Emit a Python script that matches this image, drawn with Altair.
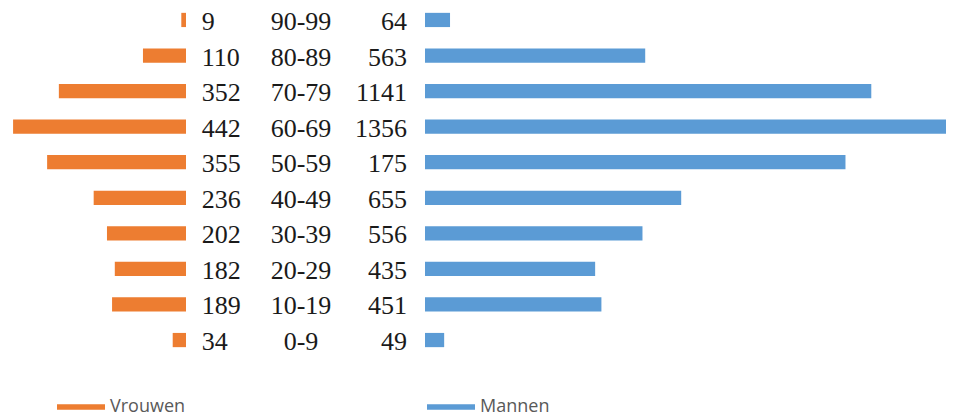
import altair as alt
import pandas as pd

ages = ["90-99", "80-89", "70-79", "60-69", "50-59", "40-49", "30-39", "20-29", "10-19", "0-9"]
vrouwen_labels = ["9", "110", "352", "442", "355", "236", "202", "182", "189", "34"]
vrouwen_bars = [12, 110, 325, 442, 355, 236, 202, 182, 189, 34]
mannen_labels = ["64", "563", "1141", "1356", "175", "655", "556", "435", "451", "49"]
mannen_bars = [64, 563, 1141, 1356, 1075, 655, 556, 435, 451, 49]
series = ["Vrouwen", "Mannen"]
colors = ["#ED7D31", "#5B9BD5"]

rows = []
for i, a in enumerate(ages):
    rows.append({"age": a, "geslacht": "Vrouwen", "bar": vrouwen_bars[i], "label": vrouwen_labels[i]})
    rows.append({"age": a, "geslacht": "Mannen", "bar": mannen_bars[i], "label": mannen_labels[i]})
df = pd.DataFrame(rows)

H = 340
yscale = alt.Scale(type="band", paddingInner=0.6, paddingOuter=0.08)
Y = alt.Y("age:N", sort=ages, scale=yscale, axis=None)
cscale = alt.Scale(domain=series, range=colors)

color_legend = alt.Color(
    "geslacht:N",
    scale=cscale,
    legend=alt.Legend(
        title=None,
        orient="none",
        direction="horizontal",
        legendX=46,
        legendY=370,
        symbolType="stroke",
        symbolSize=2304,
        symbolStrokeWidth=5.5,
        labelOffset=2,
        columnPadding=230,
        labelFont="Open Sans",
        labelFontSize=18,
        labelColor="#595959",
    ),
)

left = alt.Chart(df).transform_filter(alt.datum.geslacht == "Vrouwen").mark_bar(color=colors[0]).encode(
    x=alt.X("bar:Q", scale=alt.Scale(domain=[0, 455], reverse=True, nice=False), axis=None),
    y=Y,
).properties(width=178, height=H)

txt_font = dict(font="Liberation Serif", fontSize=26, color="#1a1a1a", baseline="alphabetic", dy=10)
mid_w = alt.Chart(df).transform_filter(alt.datum.geslacht == "Vrouwen").mark_text(align="left", **txt_font).encode(
    x=alt.value(15.7), y=Y, text="label:N")
mid_a = alt.Chart(df).transform_filter(alt.datum.geslacht == "Vrouwen").mark_text(align="center", **txt_font).encode(
    x=alt.value(115), y=Y, text="age:N")
mid_m = alt.Chart(df).transform_filter(alt.datum.geslacht == "Mannen").mark_text(align="right", **txt_font).encode(
    x=alt.value(221), y=Y, text="label:N")
# one point per series -> no visible line, but gives the legend its line symbols
legend_src = alt.Chart(df).transform_filter(alt.datum.age == "0-9").mark_line().encode(
    x=alt.X("bar:Q", axis=None), y=Y, color=color_legend)
mid = alt.layer(mid_w, mid_a, mid_m, legend_src).properties(width=239, height=H)

right = alt.Chart(df).transform_filter(alt.datum.geslacht == "Mannen").mark_bar(clip=True, color=colors[1]).encode(
    x=alt.X("bar:Q", scale=alt.Scale(domain=[0, 1332], nice=False), axis=None),
    y=Y,
).properties(width=521, height=H)

chart = alt.hconcat(left, mid, right, spacing=0).properties(
    padding={"left": 0, "top": 0, "right": 0, "bottom": 0}
).configure_view(stroke=None).configure_concat(spacing=0)

chart.save("out.html", embed_options={"renderer": "svg", "actions": False})
